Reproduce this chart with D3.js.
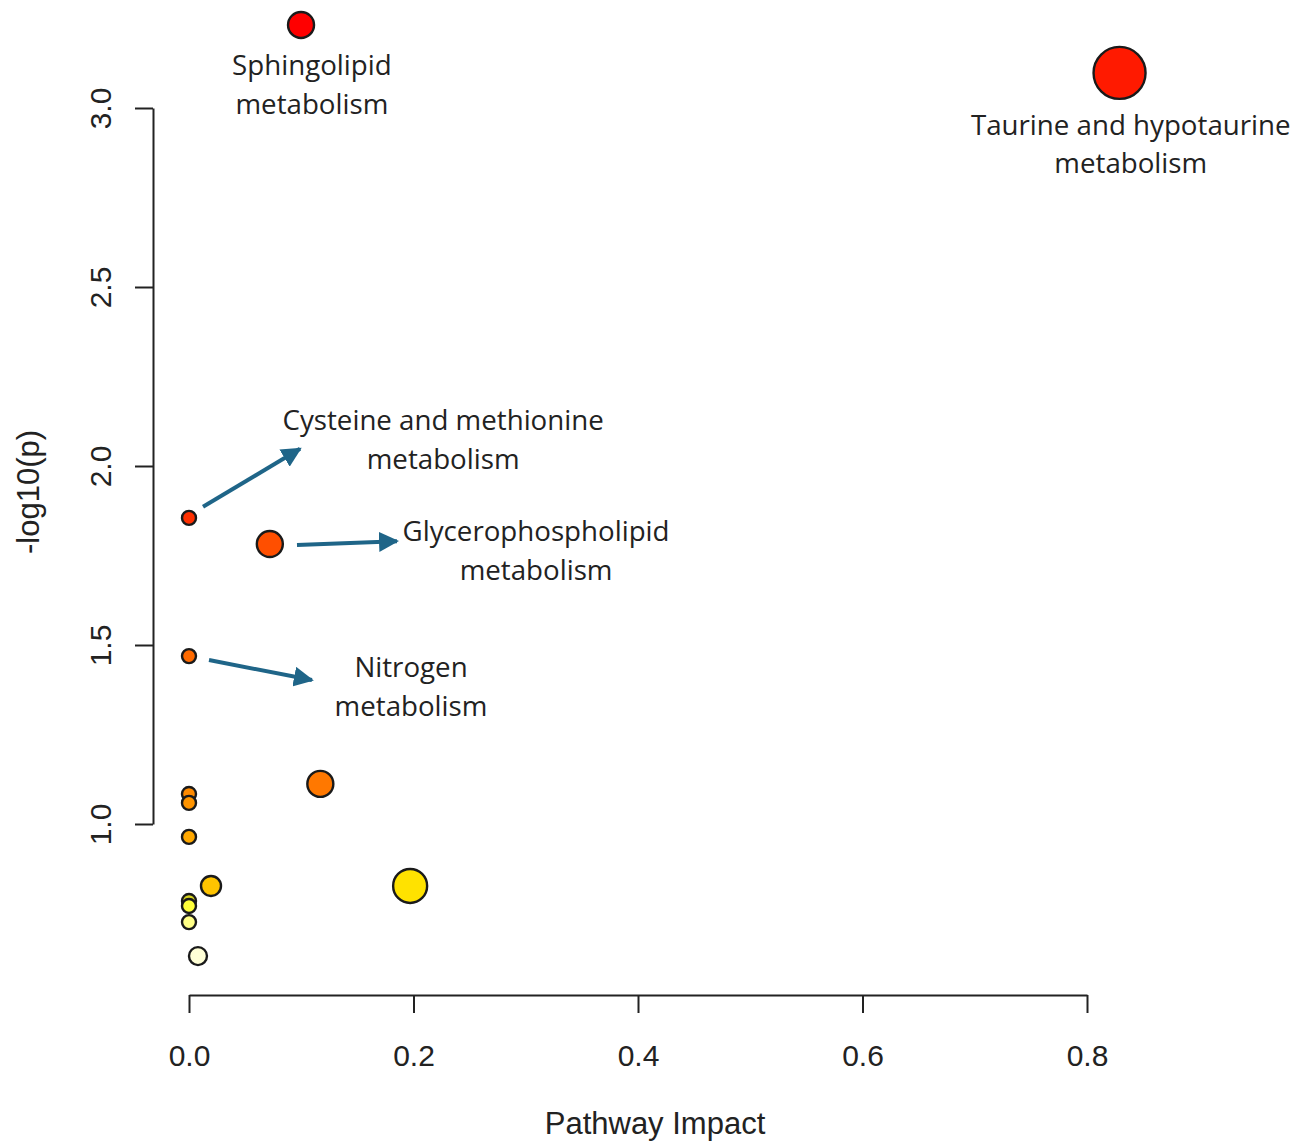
<!DOCTYPE html>
<html>
<head>
<meta charset="utf-8">
<script src="https://cdn.jsdelivr.net/npm/d3@7"></script>
<style>
  body { margin: 0; background: #fff; }
  .axis text { font-family: "Liberation Sans", Arial, sans-serif; font-size: 30px; fill: #222; }
  .axis path, .axis line { stroke: #222; stroke-width: 2px; }
  .anno { font-family: "Open Sans", "Noto Sans", sans-serif; font-size: 27.7px; fill: #222; }
</style>
</head>
<body>
<div id="chart-area"></div>
<script>
// pathway impact (x), -log10(p) (y), bubble radius, fill
const impact = [0.0998, 0.829, 0.0, 0.072, 0.0, 0.117, 0.0, 0.0, 0.0, 0.0196, 0.197, 0.0, 0.0, 0.0, 0.008]
const logp   = [3.232, 3.098, 1.855, 1.782, 1.469, 1.112, 1.084, 1.059, 0.964, 0.827, 0.827, 0.785, 0.771, 0.726, 0.631]
const radius = [13, 26, 7, 13, 7, 13, 7, 7, 7, 10, 17, 7, 7, 7, 9]
const fills  = ["#ff0000", "#ff1a00", "#ff3000", "#ff4f00", "#ff6a00", "#ff7800", "#ff8a00", "#ff9400", "#ffa800",
                "#ffc400", "#ffe200", "#d6d320", "#ffff3a", "#ffff86", "#ffffd6"]

const xTicks = [0, 0.2, 0.4, 0.6, 0.8]
const yTicks = [1.0, 1.5, 2.0, 2.5, 3.0]

// labels: text lines, anchor centre (data units); arrows: from/to (data units)
const labels = [
  { lines: ["Sphingolipid", "metabolism"], x: 0.1095, y: 3.072 },
  { lines: ["Taurine and hypotaurine", "metabolism"], x: 0.839, y: 2.905 },
  { lines: ["Cysteine and methionine", "metabolism"], x: 0.2264, y: 2.08 },
  { lines: ["Glycerophospholipid", "metabolism"], x: 0.3092, y: 1.77 },
  { lines: ["Nitrogen", "metabolism"], x: 0.1978, y: 1.39 }
]
const arrows = [
  { x1: 0.0125, y1: 1.886, x2: 0.0989, y2: 2.048 },
  { x1: 0.0962, y1: 1.779, x2: 0.1853, y2: 1.790 },
  { x1: 0.0178, y1: 1.458, x2: 0.1095, y2: 1.402 }
]

const WIDTH = 1295
const HEIGHT = 1142

const svg = d3.select("#chart-area").append("svg")
  .attr("width", WIDTH)
  .attr("height", HEIGHT)

const x = d3.scaleLinear().domain([0, 0.8]).range([189, 1087])
const y = d3.scaleLinear().domain([1.0, 3.0]).range([824, 108])

svg.append("defs").append("marker")
  .attr("id", "head")
  .attr("viewBox", "0 0 10 10")
  .attr("refX", 9).attr("refY", 5)
  .attr("markerWidth", 5).attr("markerHeight", 5)
  .attr("markerUnits", "strokeWidth")
  .attr("orient", "auto")
  .append("path")
  .attr("d", "M0,0 L10,5 L0,10 Z")
  .attr("fill", "#1f6588")

// X axis
const xAxis = svg.append("g")
  .attr("class", "axis")
  .attr("transform", "translate(0,995)")
  .call(d3.axisBottom(x).tickValues(xTicks).tickFormat(d3.format(".1f")).tickSize(18).tickSizeOuter(0))
xAxis.selectAll("text").attr("dy", "0").attr("y", 71)

// Y axis
const yAxis = svg.append("g")
  .attr("class", "axis")
  .attr("transform", "translate(153,0)")
  .call(d3.axisLeft(y).tickValues(yTicks).tickFormat(d3.format(".1f")).tickSize(18).tickSizeOuter(0))
yAxis.selectAll("text")
  .attr("x", 0).attr("dy", "0").attr("y", 0)
  .attr("text-anchor", "middle")
  .attr("dominant-baseline", "middle")
  .attr("transform", "translate(-50,0) rotate(-90)")

// axis titles
svg.append("text")
  .attr("class", "axis-label")
  .attr("x", 655).attr("y", 1134)
  .attr("text-anchor", "middle")
  .attr("font-family", "Liberation Sans, Arial, sans-serif")
  .attr("font-size", "31px")
  .attr("fill", "#222")
  .text("Pathway Impact")

svg.append("text")
  .attr("class", "axis-label")
  .attr("transform", "translate(39,492) rotate(-90)")
  .attr("text-anchor", "middle")
  .attr("font-family", "Liberation Sans, Arial, sans-serif")
  .attr("font-size", "31px")
  .attr("fill", "#222")
  .text("-log10(p)")

// bubbles
const points = impact.map((d, i) => ({ x: d, y: logp[i], r: radius[i], fill: fills[i] }))
svg.selectAll("circle")
  .data(points.slice().sort((a, b) => b.y - a.y))
  .enter().append("circle")
  .attr("cx", d => x(d.x))
  .attr("cy", d => y(d.y))
  .attr("r", d => d.r)
  .attr("fill", d => d.fill)
  .attr("stroke", "#1a1a1a")
  .attr("stroke-width", 2.4)

// arrows
svg.selectAll("line.arrow")
  .data(arrows)
  .enter().append("line")
  .attr("class", "arrow")
  .attr("x1", d => x(d.x1)).attr("y1", d => y(d.y1))
  .attr("x2", d => x(d.x2)).attr("y2", d => y(d.y2))
  .attr("stroke", "#1f6588")
  .attr("stroke-width", 4)
  .attr("marker-end", "url(#head)")

// labels
labels.forEach(l => {
  const t = svg.append("text")
    .attr("class", "anno")
    .attr("text-anchor", "middle")
    .attr("x", x(l.x))
    .attr("y", y(l.y))
  l.lines.forEach((line, i) => {
    t.append("tspan")
      .attr("x", x(l.x))
      .attr("dy", i === 0 ? "-0.27em" : "1.40em")
      .text(line)
  })
})
</script>
</body>
</html>
